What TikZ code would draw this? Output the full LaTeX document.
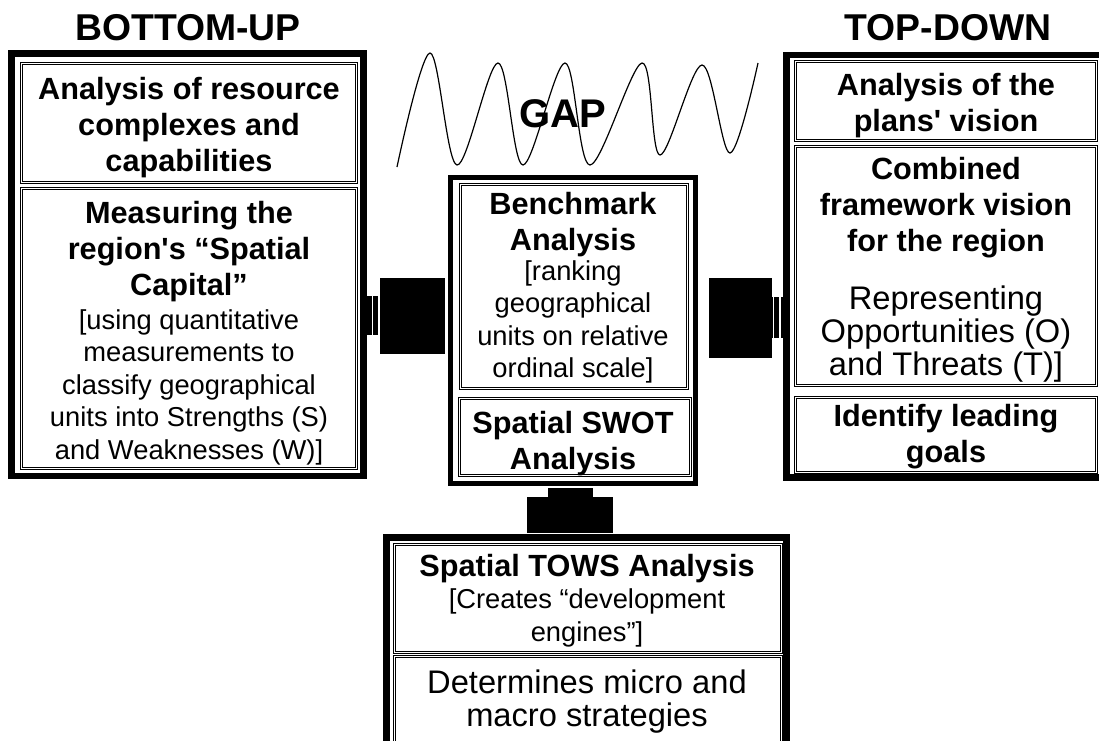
\documentclass[tikz,border=0pt]{standalone}
\usepackage{fontspec}
\setmainfont{Liberation Sans}
\begin{document}
\begin{tikzpicture}[x=0.75pt,y=0.75pt,yscale=-1,xscale=1,
  framebox/.style={line width=5pt},
  cellbox/.style={line width=0.6pt},
  headtxt/.style={inner sep=0.75pt,align=center,font=\fontsize{28}{33}\selectfont\bfseries},
  boldtxt/.style={inner sep=0.75pt,align=center,font=\fontsize{23}{27}\selectfont\bfseries},
  plaintxt/.style={inner sep=0.75pt,align=center,font=\fontsize{20.5}{24.4}\selectfont},
  bigtxt/.style={inner sep=0.75pt,align=center,font=\fontsize{24.5}{24.8}\selectfont}]
%set diagram left start at 0, and has height of 740
\useasboundingbox (0,0) rectangle (1099,740);
\clip (0,0) rectangle (1099,740);

%Shape: Rectangle [bottom-up frame]
\draw [framebox] (11.5,53.5) rectangle (363.5,476);
\draw [cellbox] (20,62) rectangle (357,183) (22,64) rectangle (355,181);
\draw [cellbox] (20,187) rectangle (357,469) (22,189) rectangle (355,467);
%Shape: Rectangle [middle frame]
\draw [line width=3.75pt] (450.5,177.5) rectangle (695.5,483.5);
\draw [cellbox] (459,183) rectangle (688,389) (461,185) rectangle (686,387);
\draw [cellbox] (458,397) rectangle (691,476) (460,399) rectangle (689,474);
%Shape: Rectangle [top-down frame]
\draw [framebox] (786.5,55) rectangle (1115,477.5);
\draw [cellbox] (794,60) rectangle (1097,141) (796,62) rectangle (1095,139);
\draw [cellbox] (794,145) rectangle (1097,386) (796,147) rectangle (1095,384);
\draw [cellbox] (794,396) rectangle (1097,473) (796,398) rectangle (1095,471);
%Shape: Rectangle [bottom frame]
\draw [framebox] (386.5,537.5) rectangle (786.5,770);
\draw [cellbox] (393,543) rectangle (782,653) (395,545) rectangle (780,651);
\draw [cellbox] (393,655) rectangle (782,750) (395,657) rectangle (780,750);

%Shape: Blocks [left joint]
\fill (367,296) rectangle (380,335);
\draw [white,line width=0.8pt] (372.5,296) -- (372.5,335) (379,296) -- (379,335);
\fill (380,278) rectangle (445,354);
%Shape: Blocks [right joint]
\fill (709,278) rectangle (772,358);
\fill (772,297) rectangle (784,338);
\draw [white,line width=0.8pt] (773.5,297) -- (773.5,338) (780,297) -- (780,338);
%Shape: Blocks [bottom joint]
\fill (548,488) rectangle (593,497);
\fill (527,497) rectangle (613,533);

%Curve Lines [gap wave]
\draw [line width=0.9pt] plot [smooth,tension=0.55] coordinates {(397,167) (430,53) (457,165) (498,63) (523,165) (565,63) (590,165) (642,63) (660,155) (702,65) (730,153) (758,63)};

% Text Node
\draw (188,28) node (bu) [headtxt] {BOTTOM-UP};
% Text Node
\draw (948,28) node (td) [headtxt] {TOP-DOWN};
% Text Node
\draw (563,114) node (gap) [inner sep=0.75pt,font=\fontsize{30}{34}\selectfont\bfseries] {GAP};
% Text Node
\draw (189,128) node (res) [boldtxt] {Analysis of resource\\complexes and\\capabilities};
% Text Node
\draw (189,252) node (cap) [boldtxt] {Measuring the\\region\textquotesingle s “Spatial\\Capital”};
% Text Node
\draw (189,387) node (capx) [plaintxt] {[using quantitative\\measurements to\\classify geographical\\units into Strengths (S)\\and Weaknesses (W)]};
% Text Node
\draw (573,225) node (bench) [boldtxt] {Benchmark\\Analysis};
% Text Node
\draw (573,322) node (benchx) [plaintxt] {[ranking\\geographical\\units on relative\\ordinal scale]};
% Text Node
\draw (573,444) node (swot) [boldtxt] {Spatial SWOT\\Analysis};
% Text Node
\draw (946,106) node (vis) [boldtxt] {Analysis of the\\plans\textquotesingle\ vision};
% Text Node
\draw (946,208) node (comb) [boldtxt] {Combined\\framework vision\\for the region};
% Text Node
\draw (946,334) node (combx) [bigtxt] {Representing\\Opportunities (O)\\and Threats (T)]};
% Text Node
\draw (946,437) node (goal) [boldtxt] {Identify leading\\goals};
% Text Node
\draw (587,569) node (tows) [boldtxt] {Spatial TOWS Analysis};
% Text Node
\draw (587,618) node (towsx) [plaintxt] {[Creates “development\\engines”]};
% Text Node
\draw (587,702) node (strat) [bigtxt] {Determines micro and\\macro strategies};

\end{tikzpicture}
\end{document}
